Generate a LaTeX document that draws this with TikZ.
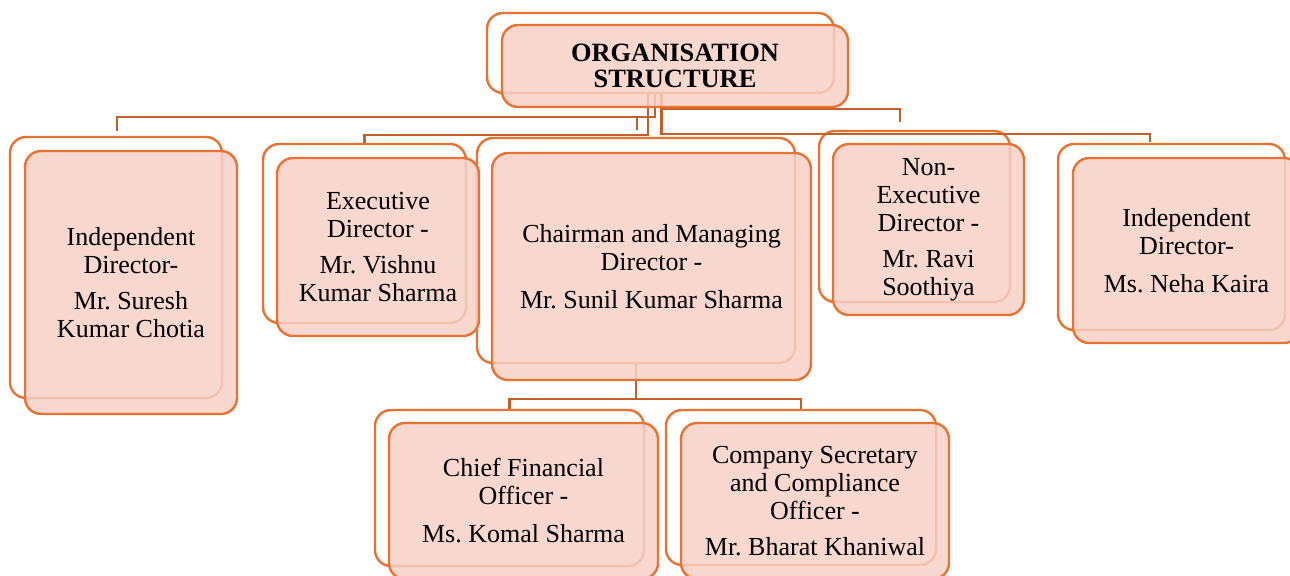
\documentclass[tikz,border=0pt]{standalone}
\usepackage{fontspec}
\setmainfont{Liberation Serif}
\usetikzlibrary{calc}
\frenchspacing
\definecolor{boxorange}{RGB}{234,114,48}
\definecolor{connbrown}{RGB}{195,95,40}
\definecolor{pinkfill}{RGB}{246,208,198}
\tikzset{
  backbox/.style={draw=boxorange, line width=1.2pt, fill=white, rounded corners=8pt, inner sep=0pt},
  frontbox/.style={draw=boxorange, line width=1.2pt, fill=pinkfill, fill opacity=0.85, text opacity=1,
    rounded corners=8pt, inner sep=0pt, align=center, font=\fontsize{13}{14}\selectfont},
  titlebox/.style={frontbox, font=\bfseries\fontsize{13.2}{13}\selectfont},
  conn/.style={draw=connbrown, line width=1.1pt},
}
\begin{document}
\begin{tikzpicture}[x=0.5pt,y=-0.5pt]
\useasboundingbox (0,0) rectangle (1290,575);
\clip (0,0) rectangle (1290,575);
% back boxes
\node[backbox, minimum width=173.5pt, minimum height=40pt]   (tb)   at (660.5,53)  {};
\node[backbox, minimum width=106pt,   minimum height=130.5pt] (id1b) at (116,267.5) {};
\node[backbox, minimum width=101.5pt, minimum height=89.5pt] (exb)  at (364.5,233.5) {};
\node[backbox, minimum width=159pt,   minimum height=112.5pt] (chb) at (636,250.5) {};
\node[backbox, minimum width=95.5pt,  minimum height=85.5pt] (neb)  at (914.5,216.5) {};
\node[backbox, minimum width=113.5pt, minimum height=93pt]   (nkb)  at (1171.5,237) {};
\node[backbox, minimum width=134.5pt, minimum height=78pt]   (cfb)  at (509.5,488) {};
\node[backbox, minimum width=135pt,   minimum height=77.5pt] (csb)  at (801,487.5) {};
% connectors
\draw[conn] ($(tb.south)+(-5.5,0)$) -- ++(0,23) -| ($(id1b.north)+(1,-5)$);
\draw[conn] ($(tb.south)+(-5.5,0)$) -- ++(0,23) -| ($(chb.north)+(1,-7)$);
\draw[conn] ($(tb.south)+(-12.5,0)$) -- ++(0,41) -| (exb.north);
\draw[conn] ($(tb.south)+(1,0)$) -- ++(0,15) -| ($(neb.north)+(-14.5,-8)$);
\draw[conn] ($(tb.south)+(1,0)$) -- ++(0,40) -| ($(nkb.north)+(-21.5,-1)$);
\draw[conn] (chb.south) -- ++(0,35) -| (cfb.north);
\draw[conn] (chb.south) -- ++(0,35) -| (csb.north);
% front boxes
\node[titlebox, minimum width=173pt, minimum height=41pt] (t) at (675,66) {ORGANISATION\\STRUCTURE};
\node[frontbox, minimum width=106pt, minimum height=131.5pt] (id1) at (131,282.5)
  {Independent\\Director-\\[4pt]Mr. Suresh\\Kumar Chotia};
\node[frontbox, minimum width=101pt, minimum height=89pt] (ex) at (378,247)
  {Executive\\Director -\\[4pt]Mr. Vishnu\\Kumar Sharma};
\node[frontbox, minimum width=159.5pt, minimum height=113.5pt] (ch) at (651.5,266.5)
  {Chairman and Managing\\Director -\\[5pt]Mr. Sunil Kumar Sharma};
\node[frontbox, minimum width=95.5pt, minimum height=85.5pt] (ne) at (928.5,229.5)
  {Non-\\Executive\\Director -\\[4pt]Mr. Ravi\\Soothiya};
\node[frontbox, minimum width=113.5pt, minimum height=92.5pt] (nk) at (1186.5,250.5)
  {Independent\\Director-\\[5pt]Ms. Neha Kaira};
\node[frontbox, minimum width=134.5pt, minimum height=78pt] (cf) at (523.5,501)
  {Chief Financial\\Officer -\\[5pt]Ms. Komal Sharma};
\node[frontbox, minimum width=134pt, minimum height=78pt] (cs) at (815,501)
  {Company Secretary\\and Compliance\\Officer -\\[4pt]Mr. Bharat Khaniwal};
\end{tikzpicture}
\end{document}
